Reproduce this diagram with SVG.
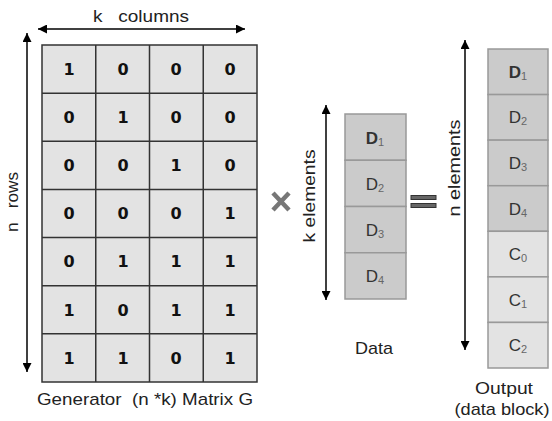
<svg xmlns="http://www.w3.org/2000/svg" width="552" height="421" viewBox="0 0 552 421">
<defs>
<marker id="ah" viewBox="0 0 10 10" refX="10" refY="5" markerWidth="10" markerHeight="9" markerUnits="userSpaceOnUse" orient="auto-start-reverse">
<path d="M0,0 L10,5 L0,10 z" fill="#000"/>
</marker>
<style>
.cell{fill:#e3e3e3;stroke:#333;stroke-width:1.5}
.num{font-family:"DejaVu Sans",Verdana,sans-serif;font-weight:bold;font-size:16px;fill:#111;text-anchor:middle}
.lbl{font-family:"Liberation Sans",Arial,sans-serif;font-size:17px;fill:#222;text-anchor:middle;white-space:pre}
.dk{fill:#cbcbcb;stroke:#999;stroke-width:1.5}
.lt{fill:#e3e3e3;stroke:#999;stroke-width:1.5}
.v{font-family:"Liberation Sans",Arial,sans-serif;font-size:17px;fill:#333;text-anchor:middle}
.sub{font-size:11px;fill:#666}
.arr{stroke:#000;stroke-width:1.5;fill:none}
</style>
</defs>
<g id="connectors">
<line class="arr" x1="38" y1="29" x2="245" y2="29" marker-start="url(#ah)" marker-end="url(#ah)"/>
<line class="arr" x1="27" y1="33" x2="27" y2="372" marker-start="url(#ah)" marker-end="url(#ah)"/>
<line class="arr" x1="326" y1="105" x2="326" y2="300" marker-start="url(#ah)" marker-end="url(#ah)"/>
<line class="arr" x1="465" y1="40" x2="465" y2="350" marker-start="url(#ah)" marker-end="url(#ah)"/>
</g>
<g id="labels">
<text class="lbl" x="141" y="22" textLength="96" lengthAdjust="spacingAndGlyphs">k&#160;&#160;&#160;columns</text>
<text class="lbl" transform="translate(18,202) rotate(-90)" textLength="60" lengthAdjust="spacingAndGlyphs">n&#160;&#160;&#160;rows</text>
<text class="lbl" x="145" y="405" textLength="216" lengthAdjust="spacingAndGlyphs">Generator&#160;&#160;(n *k) Matrix G</text>
<text class="lbl" transform="translate(315,196) rotate(-90)" textLength="93" lengthAdjust="spacingAndGlyphs">k elements</text>
<text class="lbl" transform="translate(460,168) rotate(-90)" textLength="97" lengthAdjust="spacingAndGlyphs">n elements</text>
<text class="lbl" x="374" y="354" textLength="38" lengthAdjust="spacingAndGlyphs">Data</text>
<text class="lbl" x="504" y="394" textLength="58" lengthAdjust="spacingAndGlyphs">Output</text>
<text class="lbl" x="502" y="415" textLength="95" lengthAdjust="spacingAndGlyphs">(data block)</text>
</g>
<g id="times">
<path d="M273,193 L289,210 M289,193 L273,210" stroke="#777" stroke-width="4.5" fill="none"/>
</g>
<g id="equals">
<rect x="411" y="195.5" width="25" height="4" fill="#666" stroke="#333" stroke-width="1"/>
<rect x="411" y="203.5" width="25" height="4" fill="#666" stroke="#333" stroke-width="1"/>
</g>
<g id="matrix">
<rect class="cell" x="42" y="45" width="215" height="337"/>
<path d="M95.75,45V382M149.5,45V382M203.25,45V382M42,93.14H257M42,141.29H257M42,189.43H257M42,237.57H257M42,285.71H257M42,333.86H257" stroke="#333" stroke-width="1.5" fill="none"/>
<g>
<text class="num" x="69" y="75">1</text><text class="num" x="123" y="75">0</text><text class="num" x="176" y="75">0</text><text class="num" x="230" y="75">0</text>
<text class="num" x="69" y="123">0</text><text class="num" x="123" y="123">1</text><text class="num" x="176" y="123">0</text><text class="num" x="230" y="123">0</text>
<text class="num" x="69" y="171">0</text><text class="num" x="123" y="171">0</text><text class="num" x="176" y="171">1</text><text class="num" x="230" y="171">0</text>
<text class="num" x="69" y="219">0</text><text class="num" x="123" y="219">0</text><text class="num" x="176" y="219">0</text><text class="num" x="230" y="219">1</text>
<text class="num" x="69" y="267">0</text><text class="num" x="123" y="267">1</text><text class="num" x="176" y="267">1</text><text class="num" x="230" y="267">1</text>
<text class="num" x="69" y="316">1</text><text class="num" x="123" y="316">0</text><text class="num" x="176" y="316">1</text><text class="num" x="230" y="316">1</text>
<text class="num" x="69" y="364">1</text><text class="num" x="123" y="364">1</text><text class="num" x="176" y="364">0</text><text class="num" x="230" y="364">1</text>
</g>
</g>
<g id="data">
<rect class="dk" x="345" y="114" width="61" height="46.25"/>
<rect class="dk" x="345" y="160.25" width="61" height="46.25"/>
<rect class="dk" x="345" y="206.5" width="61" height="46.25"/>
<rect class="dk" x="345" y="252.75" width="61" height="46.25"/>
<text class="v" x="375" y="144" font-weight="bold" fill="#111">D<tspan class="sub" dy="2" font-weight="normal" fill="#333">1</tspan></text>
<text class="v" x="375" y="190">D<tspan class="sub" dy="2">2</tspan></text>
<text class="v" x="375" y="236">D<tspan class="sub" dy="2">3</tspan></text>
<text class="v" x="375" y="282">D<tspan class="sub" dy="2">4</tspan></text>
</g>
<g id="output">
<rect class="dk" x="488" y="49" width="60" height="45.57"/>
<rect class="dk" x="488" y="94.57" width="60" height="45.57"/>
<rect class="dk" x="488" y="140.14" width="60" height="45.57"/>
<rect class="dk" x="488" y="185.71" width="60" height="45.57"/>
<rect class="lt" x="488" y="231.29" width="60" height="45.57"/>
<rect class="lt" x="488" y="276.86" width="60" height="45.57"/>
<rect class="lt" x="488" y="322.43" width="60" height="45.57"/>
<text class="v" x="518" y="78" font-weight="bold" fill="#111">D<tspan class="sub" dy="2" font-weight="normal" fill="#333">1</tspan></text>
<text class="v" x="518" y="123">D<tspan class="sub" dy="2">2</tspan></text>
<text class="v" x="518" y="169">D<tspan class="sub" dy="2">3</tspan></text>
<text class="v" x="518" y="215">D<tspan class="sub" dy="2">4</tspan></text>
<text class="v" x="518" y="260">C<tspan class="sub" dy="2" fill="#333">0</tspan></text>
<text class="v" x="518" y="306">C<tspan class="sub" dy="2" fill="#333">1</tspan></text>
<text class="v" x="518" y="351">C<tspan class="sub" dy="2" fill="#333">2</tspan></text>
</g>
</svg>
